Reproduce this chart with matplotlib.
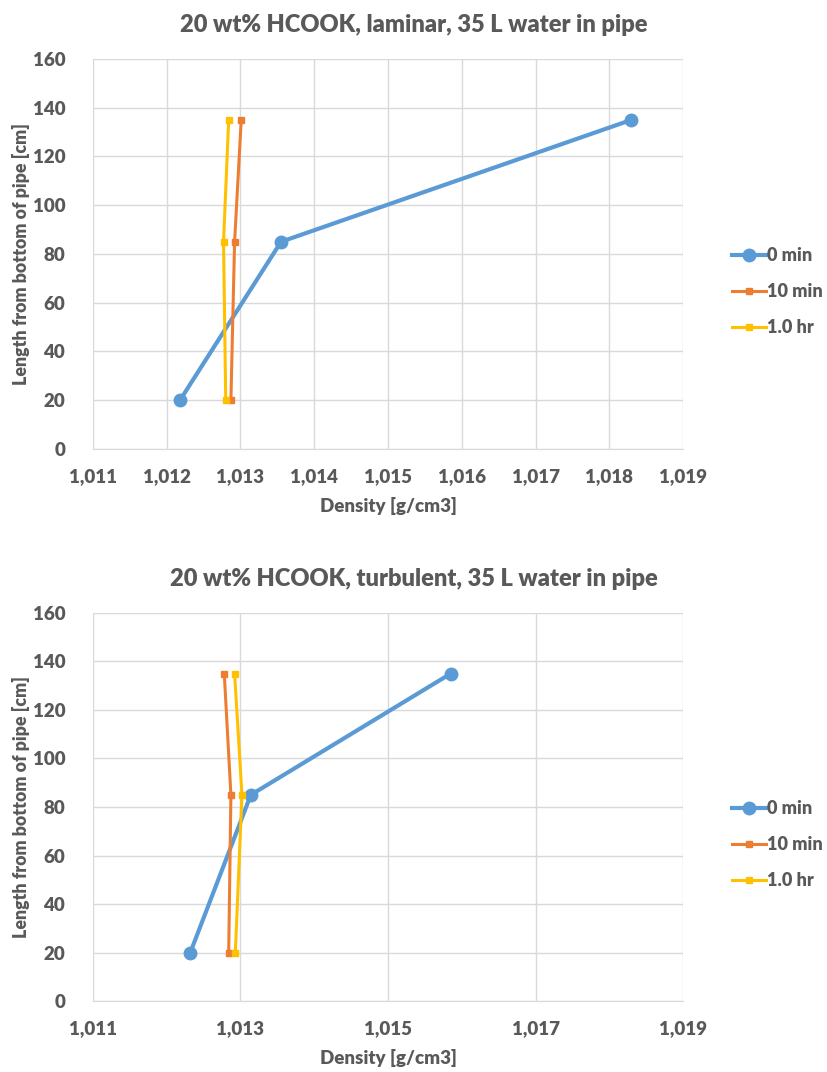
import numpy as np
import matplotlib
matplotlib.use('Agg')
import matplotlib.pyplot as plt
from matplotlib.ticker import FuncFormatter

# Measured densities [g/cm3] at three heights in the pipe
heights = [20, 85, 135]

laminar_0min = [1.01218, 1.01355, 1.01830]
laminar_10min = [1.01287, 1.01292, 1.01301]
laminar_1hr = [1.01280, 1.01277, 1.01284]

turbulent_0min = [1.01232, 1.01314, 1.01585]
turbulent_10min = [1.01284, 1.01287, 1.01278]
turbulent_1hr = [1.01293, 1.01302, 1.01292]

series_labels = ['0 min', '10 min', '1.0 hr']
titles = ['20 wt% HCOOK, laminar, 35 L water in pipe',
          '20 wt% HCOOK, turbulent, 35 L water in pipe']

blue = '#5B9BD5'
orange = '#ED7D31'
gold = '#FFC000'
grey = '#595959'

plt.rcParams['font.family'] = ['Lato', 'DejaVu Sans']
plt.rcParams['font.weight'] = 'heavy'

fig = plt.figure(figsize=(8.28, 10.72), dpi=100)
ax1 = fig.add_axes([0.1123, 0.5812, 0.7126, 0.3638])
ax2 = fig.add_axes([0.1123, 0.0662, 0.7126, 0.362])

comma = FuncFormatter(lambda v, p: ('%.3f' % v).replace('.', ','))

def draw(ax, d0, d10, d1h, title, xstep):
    ax.plot(d0, heights, color=blue, lw=3, marker='o', ms=9, label=series_labels[0], zorder=3)
    ax.plot(d10, heights, color=orange, lw=2.2, marker='s', ms=5, label=series_labels[1], zorder=3)
    ax.plot(d1h, heights, color=gold, lw=2.2, marker='s', ms=5, label=series_labels[2], zorder=3)
    ax.set_xlim(1.011, 1.019)
    ax.set_ylim(0, 160)
    ax.set_xticks(np.arange(1.011, 1.01901, xstep))
    ax.set_yticks(np.arange(0, 161, 20))
    ax.xaxis.set_major_formatter(comma)
    ax.grid(True, color='#D9D9D9', lw=1)
    ax.set_axisbelow(True)
    for s in ['left', 'right', 'top']:
        ax.spines[s].set_visible(False)
    ax.spines['bottom'].set_color('#D9D9D9')
    ax.tick_params(length=0, labelsize=13.5, colors=grey, pad=14)
    ax.tick_params(axis='y', pad=20)
    for lbl in ax.get_xticklabels() + ax.get_yticklabels():
        lbl.set_fontweight('heavy')
    ax.set_xlabel('Density [g/cm3]', fontsize=13.5, color=grey, fontweight='heavy', labelpad=8)
    ax.set_ylabel('Length from bottom of pipe [cm]', fontsize=12.8, color=grey,
                  fontweight='heavy', labelpad=2)
    # chart title is centred on the whole chart area, not on the plot box
    top = ax.get_position().y1
    fig.text(0.5, top + 0.032, title, ha='center', va='center', fontsize=17,
             color=grey, fontweight='heavy')
    ax.legend(loc='center left', bbox_to_anchor=(1.055, 0.403), frameon=False,
              labelcolor=grey, handlelength=1.9, handletextpad=0.05,
              labelspacing=1.05, prop={'weight': 'heavy', 'size': 13})

draw(ax1, laminar_0min, laminar_10min, laminar_1hr, titles[0], 0.001)
draw(ax2, turbulent_0min, turbulent_10min, turbulent_1hr, titles[1], 0.002)

fig.savefig('out.png', dpi=100, facecolor='white')
